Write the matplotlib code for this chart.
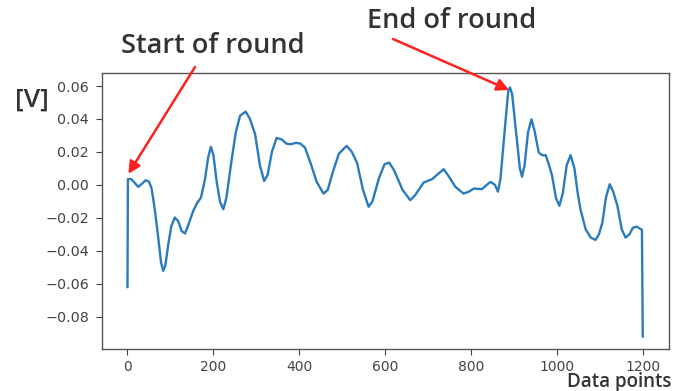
import matplotlib
matplotlib.use("Agg")
import matplotlib.pyplot as plt

# data
x_points = [0, 1, 8, 16, 25, 33, 42, 50, 56, 64, 72, 78, 83, 88, 95, 102, 110, 118, 126, 134,
            142, 153, 162, 171, 180, 188, 194, 200, 207, 215, 223, 230, 242, 252, 262, 275, 285,
            297, 308, 318, 326, 336, 347, 358, 370, 380, 392, 402, 413, 425, 440, 456, 466, 478,
            492, 510, 522, 534, 548, 561, 570, 585, 598, 609, 620, 640, 658, 670, 689, 709, 722,
            736, 748, 763, 782, 795, 806, 825, 838, 845, 855, 862, 868, 874, 880, 886, 890, 895,
            901, 907, 913, 918, 924, 932, 940, 947, 957, 965, 973, 981, 988, 997, 1005, 1013,
            1022, 1031, 1040, 1047, 1054, 1066, 1078, 1089, 1097, 1105, 1113, 1122, 1130, 1140,
            1150, 1159, 1168, 1176, 1185, 1197, 1199]
voltage = [-0.062, 0.0035, 0.0036, 0.0015, -0.0012, 0.0005, 0.0028, 0.002, -0.002, -0.0158,
           -0.033, -0.047, -0.0522, -0.049, -0.036, -0.025, -0.0198, -0.022, -0.028, -0.0295,
           -0.024, -0.0158, -0.011, -0.0077, 0.003, 0.017, 0.0231, 0.018, 0.003, -0.010, -0.0148,
           -0.008, 0.0146, 0.032, 0.042, 0.0445, 0.040, 0.0307, 0.012, 0.0024, 0.006, 0.020,
           0.0285, 0.0277, 0.025, 0.0247, 0.0255, 0.0251, 0.0226, 0.014, 0.002, -0.0053, -0.003,
           0.008, 0.019, 0.0237, 0.020, 0.0135, -0.003, -0.0133, -0.010, 0.004, 0.0125, 0.0135,
           0.009, -0.003, -0.0093, -0.006, 0.0014, 0.0035, 0.0065, 0.0095, 0.005, -0.0012,
           -0.0053, -0.004, -0.0022, -0.0026, 0.0005, 0.0018, 0.000, -0.0041, 0.004, 0.022,
           0.040, 0.057, 0.0592, 0.055, 0.040, 0.025, 0.010, 0.0050, 0.012, 0.032, 0.0398, 0.033,
           0.0196, 0.018, 0.018, 0.012, 0.0055, -0.008, -0.0127, -0.005, 0.012, 0.018, 0.010,
           -0.004, -0.0148, -0.0269, -0.032, -0.0334, -0.030, -0.0229, -0.008, 0.0004, -0.004,
           -0.0127, -0.027, -0.032, -0.030, -0.026, -0.0253, -0.0273, -0.092]
x_ticks = [0, 200, 400, 600, 800, 1000, 1200]
y_ticks = [-0.08, -0.06, -0.04, -0.02, 0.00, 0.02, 0.04, 0.06]

W, H = 695, 391
fig = plt.figure(figsize=(W / 100, H / 100), dpi=100)
ax = fig.add_axes([101.7 / W, 1 - 349.3 / H, (669 - 101.7) / W, (349.3 - 72.7) / H])

ax.plot(x_points, voltage, color="#2a7bbd", lw=1.7)
ax.set_xlim(-60, 1260)
ax.set_ylim(-0.0998, 0.0681)
ax.set_xticks(x_ticks)
ax.set_yticks(y_ticks)
ax.set_yticklabels([f"{v:.2f}".replace("-", "\u2212") for v in y_ticks])
ax.tick_params(labelsize=10.3, colors="#444444", length=4.5)
ax.tick_params(axis="y", pad=4.5)
ax.tick_params(axis="x", labelsize=10, pad=3)
for s in ax.spines.values():
    s.set_color("#555555")
    s.set_linewidth(1.0)

tfont = ["Open Sans", "DejaVu Sans"]
fig.text(15 / W, 1 - 100 / H, "[V]", fontsize=19, family=tfont, weight="semibold",
         color="#333333", ha="left", va="center")
fig.text(121 / W, 1 - 53 / H, "Start of round", fontsize=19.5, family=tfont,
         weight="semibold", color="#333333", ha="left", va="baseline")
fig.text(367 / W, 1 - 28 / H, "End of round", fontsize=19.5, family=tfont,
         weight="semibold", color="#333333", ha="left", va="baseline")
fig.text(567 / W, 1 - 387.5 / H, "Data points", fontsize=13.5, family=tfont,
         weight="semibold", color="#333333", ha="left", va="baseline")

arrow = dict(arrowstyle="-|>", color="#ff2020", lw=1.8, mutation_scale=18,
             shrinkA=0, shrinkB=0)
ax.annotate("", xy=(2, 0.0067), xycoords="data",
            xytext=(195, H - 67), textcoords="figure pixels", arrowprops=arrow)
ax.annotate("", xy=(888, 0.0576), xycoords="data",
            xytext=(393, H - 39), textcoords="figure pixels", arrowprops=arrow)

fig.savefig("out.png", dpi=100)
